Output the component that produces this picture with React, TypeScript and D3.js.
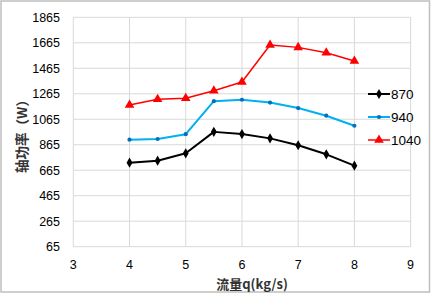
import React from "react";
import * as d3 from "d3";

const flow = [4, 4.5, 5, 5.5, 6, 6.5, 7, 7.5, 8];
const s870 = [724, 740, 798, 966, 949, 915, 861, 790, 701];
const s940 = [905, 910, 948, 1207, 1218, 1196, 1153, 1093, 1014];
const s1040 = [1177, 1222, 1230, 1288, 1357, 1648, 1629, 1587, 1522];
const seriesNames = ["870", "940", "1040"];
const xTicks = [3, 4, 5, 6, 7, 8, 9];
const yTicks = [65, 265, 465, 665, 865, 1065, 1265, 1465, 1665, 1865];

const W = 432, H = 294;
const L = 73.3, R = 410.6, T = 17.3, B = 246.7;

export default function App() {
  const x = d3.scaleLinear().domain([3, 9]).range([L, R]);
  const y = d3.scaleLinear().domain([65, 1865]).range([B, T]);
  const line = d3.line<number>().x((_, i) => x(flow[i])).y((d) => y(d));
  const series = [
    { name: seriesNames[0], data: s870, color: "#000000", marker: "#000000", sw: 2, type: "diamond" },
    { name: seriesNames[1], data: s940, color: "#00b0f0", marker: "#0070c0", sw: 2, type: "circle" },
    { name: seriesNames[2], data: s1040, color: "#ff0000", marker: "#ff0000", sw: 1.5, type: "triangle" },
  ];
  const sym = (type: string) => {
    if (type === "diamond") return d3.symbol().type(d3.symbolDiamond).size(30)()!;
    if (type === "circle") return d3.symbol().type(d3.symbolCircle).size(14)()!;
    return d3.symbol().type(d3.symbolTriangle).size(40)()!;
  };
  const font = "'Liberation Sans', 'Open Sans', sans-serif";
  const legendY = [94, 117, 140];
  return (
    <svg width={W} height={H} style={{ position: "absolute", left: 0, top: 0, background: "#fff" }}>
      <rect x={1} y={1} width={428.5} height={291} fill="#fff" stroke="#bfbfbf" strokeWidth={1.5} />
      {xTicks.map((t) => (
        <line key={"gx" + t} x1={x(t)} x2={x(t)} y1={T} y2={B} stroke="#d9d9d9" strokeWidth={1} />
      ))}
      {yTicks.map((t) => (
        <line key={"gy" + t} x1={L} x2={R} y1={y(t)} y2={y(t)} stroke="#d9d9d9" strokeWidth={1} />
      ))}
      {yTicks.map((t) => (
        <text key={"ty" + t} x={60} y={y(t)} dy="0.35em" textAnchor="end" fontFamily={font} fontSize={12.5} fill="#000">
          {t}
        </text>
      ))}
      {xTicks.map((t) => (
        <text key={"tx" + t} x={x(t)} y={265} dy="0.35em" textAnchor="middle" fontFamily={font} fontSize={12.5} fill="#000">
          {t}
        </text>
      ))}
      {series.map((s) => (
        <g key={s.name}>
          <path d={line(s.data)!} fill="none" stroke={s.color} strokeWidth={s.sw} strokeLinejoin="round" />
          {s.data.map((v, i) => (
            <path key={i} d={sym(s.type)} transform={`translate(${x(flow[i])},${y(v)})`} fill={s.marker} />
          ))}
        </g>
      ))}
      {series.map((s, i) => (
        <g key={"lg" + s.name}>
          <line x1={368} x2={390} y1={legendY[i]} y2={legendY[i]} stroke={s.color} strokeWidth={s.sw} />
          <path d={sym(s.type)} transform={`translate(379,${legendY[i]})`} fill={s.marker} />
          <text x={391} y={legendY[i]} dy="0.35em" fontFamily={font} fontSize={13.5} fill="#000">
            {s.name}
          </text>
        </g>
      ))}
      <text
        transform="translate(22,133) rotate(-90)"
        textAnchor="middle"
        dy="0.35em"
        fontFamily="'Noto Sans CJK SC', sans-serif"
        fontWeight="bold"
        fontSize={13.5}
        fill="#333"
      >
        轴功率（W）
      </text>
      <text
        x={252}
        y={284}
        dy="0.35em"
        textAnchor="middle"
        fontFamily="'Noto Sans CJK SC', sans-serif"
        fontWeight="bold"
        fontSize={13}
        fill="#333"
      >
        流量q(kg/s)
      </text>
    </svg>
  );
}
